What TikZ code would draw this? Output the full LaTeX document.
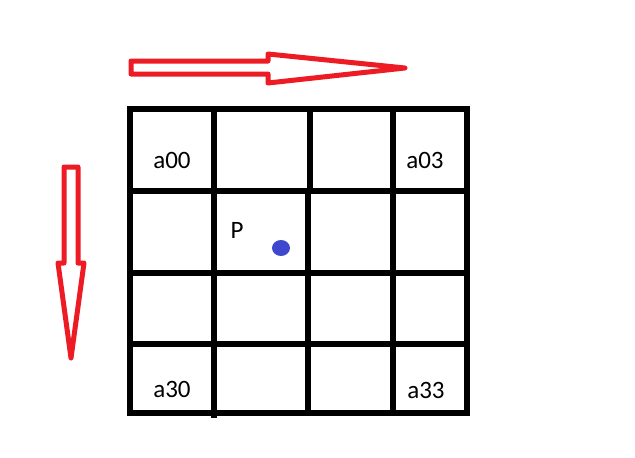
\documentclass[tikz,border=0pt]{standalone}
\usepackage{fontspec}
\setmainfont{Carlito}
\usetikzlibrary{shapes.geometric}
\definecolor{arrowred}{HTML}{ED1C24}
\definecolor{dotblue}{HTML}{3F48CC}
\begin{document}
\begin{tikzpicture}[x=1pt,y=-1pt,
  gridline/.style={line width=5.5pt, black},
  redarrow/.style={line width=5pt, arrowred, line join=round},
  cell/.style={font=\fontsize{25}{29}\selectfont, inner sep=0pt, text=black}]
\useasboundingbox (0,0) rectangle (635,458);
% red arrows
\draw[redarrow] (131,61) -- (268,61) -- (268,54) -- (405,68) -- (268,83) -- (268,74) -- (131,74) -- cycle;
\draw[redarrow] (64,167) -- (78,167) -- (78,263) -- (84,263) -- (71,358) -- (58,263) -- (64,263) -- cycle;
% grid
\draw[gridline] (130,109) rectangle (467,413);
\draw[gridline] (214,106) -- (214,418);
\draw[gridline] (310,109) -- (310,188) (308,188) -- (308,413);
\draw[gridline] (393,106) -- (393,413);
\draw[gridline] (130,191) -- (469,191);
\draw[gridline] (130,273) -- (467,273);
\draw[gridline] (127,344) -- (467,344);
% labels
\node[cell] (a00) at (172,160) {a00};
\node[cell] (a03) at (425,160) {a03};
\node[cell] (a30) at (172,389) {a30};
\node[cell] (a33) at (426,390) {a33};
\node[cell] (P) at (237,230) {P};
\node[ellipse, fill=dotblue, minimum width=18pt, minimum height=16pt, inner sep=0pt] (dot) at (281,248) {};
\end{tikzpicture}
\end{document}
